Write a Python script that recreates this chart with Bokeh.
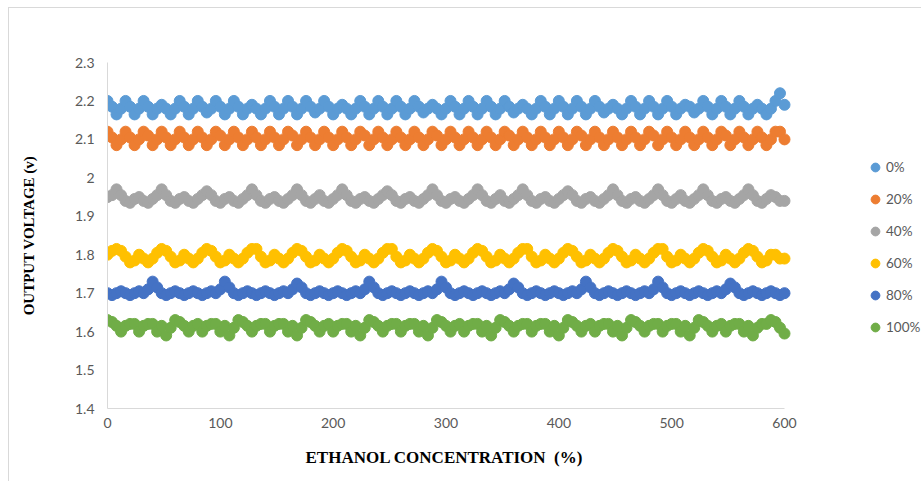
from bokeh.plotting import figure
from bokeh.models import Range1d, FixedTicker, Legend, LegendItem, Title
from bokeh.embed import file_html
from bokeh.resources import INLINE

# ---------------- data ----------------
x_values = list(range(0, 601, 4))   # 151 samples

series_labels = ["0%", "20%", "40%", "60%", "80%", "100%"]
series_colors = ["#5B9BD5", "#ED7D31", "#A5A5A5", "#FFC000", "#4472C4", "#70AD47"]

v_0 = [2.20, 2.185, 2.165, 2.18,
       2.20, 2.185, 2.165, 2.18,
       2.20, 2.185, 2.165, 2.18,
       2.19, 2.18, 2.165, 2.18,
       2.20, 2.185, 2.165, 2.18,
       2.20, 2.185, 2.17, 2.18,
       2.20, 2.185, 2.165, 2.18,
       2.20, 2.185, 2.165, 2.18,
       2.19, 2.18, 2.165, 2.18,
       2.20, 2.185, 2.165, 2.18,
       2.20, 2.185, 2.165, 2.18,
       2.20, 2.185, 2.17, 2.18,
       2.20, 2.185, 2.165, 2.18,
       2.19, 2.18, 2.165, 2.18,
       2.20, 2.185, 2.165, 2.18,
       2.20, 2.185, 2.165, 2.18,
       2.20, 2.185, 2.165, 2.18,
       2.20, 2.185, 2.17, 2.18,
       2.19, 2.18, 2.165, 2.18,
       2.20, 2.185, 2.165, 2.18,
       2.20, 2.185, 2.165, 2.18,
       2.20, 2.185, 2.165, 2.18,
       2.20, 2.185, 2.17, 2.18,
       2.19, 2.18, 2.165, 2.18,
       2.20, 2.185, 2.165, 2.18,
       2.20, 2.185, 2.165, 2.18,
       2.20, 2.185, 2.165, 2.18,
       2.20, 2.185, 2.17, 2.18,
       2.19, 2.18, 2.165, 2.18,
       2.20, 2.185, 2.165, 2.18,
       2.20, 2.185, 2.165, 2.18,
       2.20, 2.185, 2.165, 2.18,
       2.19, 2.185, 2.17, 2.18,
       2.20, 2.185, 2.165, 2.18,
       2.20, 2.185, 2.165, 2.18,
       2.20, 2.185, 2.165, 2.18,
       2.19, 2.18, 2.165, 2.18,
       2.20, 2.22, 2.19]

v_20 = [2.12, 2.105, 2.085, 2.10,
        2.12, 2.105, 2.085, 2.10,
        2.12, 2.11, 2.085, 2.10,
        2.12, 2.105, 2.085, 2.10,
        2.12, 2.105, 2.085, 2.10,
        2.12, 2.105, 2.085, 2.10,
        2.12, 2.11, 2.085, 2.10,
        2.12, 2.105, 2.085, 2.10,
        2.12, 2.105, 2.085, 2.10,
        2.12, 2.105, 2.085, 2.10,
        2.12, 2.11, 2.085, 2.10,
        2.12, 2.105, 2.085, 2.10,
        2.12, 2.105, 2.085, 2.10,
        2.12, 2.105, 2.085, 2.10,
        2.12, 2.11, 2.085, 2.10,
        2.12, 2.105, 2.085, 2.10,
        2.12, 2.105, 2.085, 2.10,
        2.12, 2.105, 2.085, 2.10,
        2.12, 2.11, 2.085, 2.10,
        2.12, 2.105, 2.085, 2.10,
        2.12, 2.105, 2.085, 2.10,
        2.12, 2.105, 2.085, 2.10,
        2.12, 2.11, 2.085, 2.10,
        2.12, 2.105, 2.085, 2.10,
        2.12, 2.105, 2.085, 2.10,
        2.12, 2.105, 2.085, 2.10,
        2.12, 2.11, 2.085, 2.10,
        2.12, 2.105, 2.085, 2.10,
        2.12, 2.105, 2.085, 2.10,
        2.12, 2.105, 2.085, 2.10,
        2.12, 2.11, 2.085, 2.10,
        2.12, 2.105, 2.085, 2.10,
        2.12, 2.105, 2.085, 2.10,
        2.12, 2.105, 2.085, 2.10,
        2.12, 2.11, 2.085, 2.10,
        2.12, 2.105, 2.085, 2.10,
        2.12, 2.105, 2.085, 2.10,
        2.12, 2.12, 2.10]

v_40 = [1.95, 1.955, 1.97, 1.955, 1.94, 1.935, 1.945, 1.95, 1.94, 1.935,
        1.945, 1.955, 1.97, 1.955, 1.94, 1.935, 1.945, 1.95, 1.94, 1.935,
        1.945, 1.955, 1.965, 1.955, 1.94, 1.935, 1.945, 1.95, 1.94, 1.935,
        1.945, 1.955, 1.97, 1.955, 1.94, 1.935, 1.945, 1.95, 1.94, 1.935,
        1.945, 1.955, 1.97, 1.955, 1.94, 1.935, 1.945, 1.955, 1.94, 1.935,
        1.945, 1.955, 1.97, 1.955, 1.94, 1.935, 1.945, 1.95, 1.94, 1.935,
        1.945, 1.955, 1.965, 1.955, 1.94, 1.935, 1.945, 1.95, 1.94, 1.935,
        1.945, 1.955, 1.97, 1.955, 1.94, 1.935, 1.945, 1.95, 1.94, 1.935,
        1.945, 1.955, 1.97, 1.955, 1.94, 1.935, 1.945, 1.955, 1.94, 1.935,
        1.945, 1.955, 1.97, 1.955, 1.94, 1.935, 1.945, 1.95, 1.94, 1.935,
        1.945, 1.955, 1.965, 1.955, 1.94, 1.935, 1.945, 1.95, 1.94, 1.935,
        1.945, 1.955, 1.97, 1.955, 1.94, 1.935, 1.945, 1.95, 1.94, 1.935,
        1.945, 1.955, 1.97, 1.955, 1.94, 1.935, 1.945, 1.955, 1.94, 1.935,
        1.945, 1.955, 1.97, 1.955, 1.94, 1.935, 1.945, 1.95, 1.94, 1.935,
        1.945, 1.955, 1.97, 1.955, 1.94, 1.935, 1.945, 1.955, 1.95, 1.94,
        1.94]

v_60 = [1.80, 1.81, 1.815, 1.81, 1.795, 1.78, 1.785, 1.80, 1.79, 1.78,
        1.79, 1.805, 1.815, 1.81, 1.795, 1.78, 1.785, 1.80, 1.79, 1.78,
        1.79, 1.805, 1.815, 1.81, 1.795, 1.78, 1.785, 1.80, 1.79, 1.78,
        1.79, 1.805, 1.815, 1.815, 1.795, 1.78, 1.785, 1.80, 1.79, 1.78,
        1.79, 1.805, 1.815, 1.81, 1.795, 1.78, 1.785, 1.80, 1.79, 1.78,
        1.79, 1.805, 1.815, 1.81, 1.795, 1.78, 1.785, 1.80, 1.79, 1.78,
        1.79, 1.805, 1.815, 1.815, 1.795, 1.78, 1.785, 1.80, 1.79, 1.78,
        1.79, 1.805, 1.815, 1.81, 1.795, 1.78, 1.785, 1.80, 1.79, 1.78,
        1.79, 1.805, 1.815, 1.81, 1.795, 1.78, 1.785, 1.80, 1.79, 1.78,
        1.79, 1.805, 1.815, 1.815, 1.795, 1.78, 1.785, 1.80, 1.79, 1.78,
        1.79, 1.805, 1.815, 1.81, 1.795, 1.78, 1.785, 1.80, 1.79, 1.78,
        1.79, 1.805, 1.815, 1.81, 1.795, 1.78, 1.785, 1.80, 1.79, 1.78,
        1.79, 1.805, 1.815, 1.815, 1.795, 1.78, 1.785, 1.80, 1.79, 1.78,
        1.79, 1.805, 1.815, 1.81, 1.795, 1.78, 1.785, 1.80, 1.79, 1.78,
        1.79, 1.805, 1.815, 1.81, 1.795, 1.78, 1.785, 1.80, 1.80, 1.79,
        1.79]

v_80 = [1.70, 1.695, 1.70, 1.705, 1.70, 1.695, 1.70, 1.705, 1.70, 1.71, 1.73, 1.715, 1.70, 1.695, 1.70, 1.705,
        1.70, 1.695, 1.70, 1.705, 1.70, 1.695, 1.70, 1.705, 1.70, 1.71, 1.73, 1.715, 1.70, 1.695, 1.70, 1.705,
        1.70, 1.695, 1.70, 1.705, 1.70, 1.695, 1.70, 1.705, 1.70, 1.71, 1.725, 1.715, 1.70, 1.695, 1.70, 1.705,
        1.70, 1.695, 1.70, 1.705, 1.70, 1.695, 1.70, 1.705, 1.70, 1.71, 1.73, 1.715, 1.70, 1.695, 1.70, 1.705,
        1.70, 1.695, 1.70, 1.705, 1.70, 1.695, 1.70, 1.705, 1.70, 1.71, 1.73, 1.715, 1.70, 1.695, 1.70, 1.705,
        1.70, 1.695, 1.70, 1.705, 1.70, 1.695, 1.70, 1.705, 1.70, 1.71, 1.725, 1.715, 1.70, 1.695, 1.70, 1.705,
        1.70, 1.695, 1.70, 1.705, 1.70, 1.695, 1.70, 1.705, 1.70, 1.71, 1.73, 1.715, 1.70, 1.695, 1.70, 1.705,
        1.70, 1.695, 1.70, 1.705, 1.70, 1.695, 1.70, 1.705, 1.70, 1.71, 1.73, 1.715, 1.70, 1.695, 1.70, 1.705,
        1.70, 1.695, 1.70, 1.705, 1.70, 1.695, 1.70, 1.705, 1.70, 1.71, 1.725, 1.715, 1.70, 1.695, 1.70, 1.705,
        1.70, 1.695, 1.70, 1.705, 1.70, 1.695, 1.70]

v_100 = [1.63, 1.625, 1.615, 1.60, 1.615, 1.62, 1.62, 1.60, 1.615, 1.62, 1.62, 1.60, 1.615, 1.59, 1.61,
         1.63, 1.625, 1.615, 1.60, 1.615, 1.62, 1.60, 1.615, 1.62, 1.62, 1.60, 1.615, 1.59, 1.61,
         1.63, 1.625, 1.615, 1.60, 1.615, 1.62, 1.62, 1.60, 1.615, 1.62, 1.62, 1.60, 1.615, 1.59, 1.61,
         1.63, 1.625, 1.615, 1.60, 1.615, 1.62, 1.60, 1.615, 1.62, 1.62, 1.60, 1.615, 1.59, 1.61,
         1.63, 1.625, 1.615, 1.60, 1.615, 1.62, 1.62, 1.60, 1.615, 1.62, 1.62, 1.60, 1.615, 1.59, 1.61,
         1.63, 1.625, 1.615, 1.60, 1.615, 1.62, 1.60, 1.615, 1.62, 1.62, 1.60, 1.615, 1.59, 1.61,
         1.63, 1.625, 1.615, 1.60, 1.615, 1.62, 1.62, 1.60, 1.615, 1.62, 1.62, 1.60, 1.615, 1.59, 1.61,
         1.63, 1.625, 1.615, 1.60, 1.615, 1.62, 1.60, 1.615, 1.62, 1.62, 1.60, 1.615, 1.59, 1.61,
         1.63, 1.625, 1.615, 1.60, 1.615, 1.62, 1.62, 1.60, 1.615, 1.62, 1.62, 1.60, 1.615, 1.59, 1.61,
         1.63, 1.625, 1.615, 1.60, 1.615, 1.62, 1.60, 1.615, 1.62, 1.62, 1.60, 1.615, 1.59, 1.61,
         1.62, 1.62, 1.63, 1.625, 1.61, 1.595]

series_values = [v_0, v_20, v_40, v_60, v_80, v_100]

x_min, x_max = 0, 600
y_min, y_max = 1.4, 2.3
x_ticks = [0, 100, 200, 300, 400, 500, 600]
x_tick_labels = ["0", "100", "200", "300", "400", "500", "600"]
y_ticks = [1.4, 1.5, 1.6, 1.7, 1.8, 1.9, 2.0, 2.1, 2.2, 2.3]
y_tick_labels = ["1.4", "1.5", "1.6", "1.7", "1.8", "1.9", "2", "2.1", "2.2", "2.3"]

x_title = "ETHANOL CONCENTRATION\u00a0 (%)"
y_title = "OUTPUT VOLTAGE (v)"

# ---------------- layout (pixels) ----------------
fig_w, fig_h = 913, 474
border_left, border_top, border_bottom = 98, 54, 74
axis_px = 677                      # pixel length of the 0..600 axis
frame_w = fig_w - border_left      # frame runs to the right edge (legend lives inside)
x_view_end = x_max + (frame_w - axis_px) * (x_max - x_min) / axis_px

p = figure(width=fig_w, height=fig_h,
           x_range=Range1d(x_min, x_view_end), y_range=Range1d(y_min, y_max),
           output_backend="svg", toolbar_location=None,
           min_border_left=border_left, min_border_right=0,
           min_border_top=border_top, min_border_bottom=border_bottom)
p.styles = {"margin-left": "8px", "margin-top": "7px",
            "border-left": "1px solid #d9d9d9", "border-top": "1px solid #d9d9d9"}
p.outline_line_color = None
p.grid.visible = False
p.border_fill_color = "white"
p.background_fill_color = "white"

label_font = "Lato"
for ax in (p.xaxis[0], p.yaxis[0]):
    ax.axis_line_color = "#d9d9d9"
    ax.axis_line_width = 1
    ax.major_tick_line_color = None
    ax.minor_tick_line_color = None
    ax.major_tick_in = 0
    ax.major_tick_out = 0
    ax.minor_tick_in = 0
    ax.minor_tick_out = 0
    ax.major_label_text_font = label_font
    ax.major_label_text_font_size = "14px"
    ax.major_label_text_color = "#595959"
    ax.axis_label_text_font = "Liberation Serif"
    ax.axis_label_text_font_style = "bold"
    ax.axis_label_text_color = "#000000"

p.xaxis.bounds = (x_min, x_max)
p.xaxis.ticker = FixedTicker(ticks=x_ticks)
p.xaxis.major_label_overrides = dict(zip(x_ticks, x_tick_labels))
p.xaxis.major_label_standoff = 9

p.yaxis.ticker = FixedTicker(ticks=y_ticks)
p.yaxis.major_label_overrides = dict(zip(y_ticks, y_tick_labels))
p.yaxis.major_label_standoff = 13
p.yaxis.axis_label = y_title
p.yaxis.axis_label_text_font_size = "15px"
p.yaxis.axis_label_standoff = 35

# x-axis title, placed under the 0..600 axis
xt = Title(text=x_title, align="left", offset=198,
           text_font="Liberation Serif", text_font_style="bold",
           text_font_size="17px", text_color="#000000", standoff=30)
p.add_layout(xt, "below")

items = []
for lab, col, vals in zip(series_labels, series_colors, series_values):
    r = p.scatter(x_values, vals, size=11, fill_color=col, line_color=col)
    items.append(LegendItem(label=lab, renderers=[r]))

legend = Legend(items=items, location=(757, 70),
                glyph_width=22, glyph_height=22, label_height=22,
                label_standoff=0, spacing=10, padding=0, margin=0,
                border_line_color=None, background_fill_alpha=0,
                label_text_font=label_font, label_text_font_size="13.5px",
                label_text_color="#595959")
p.add_layout(legend)

open("out.html", "w").write(file_html(p, INLINE))
